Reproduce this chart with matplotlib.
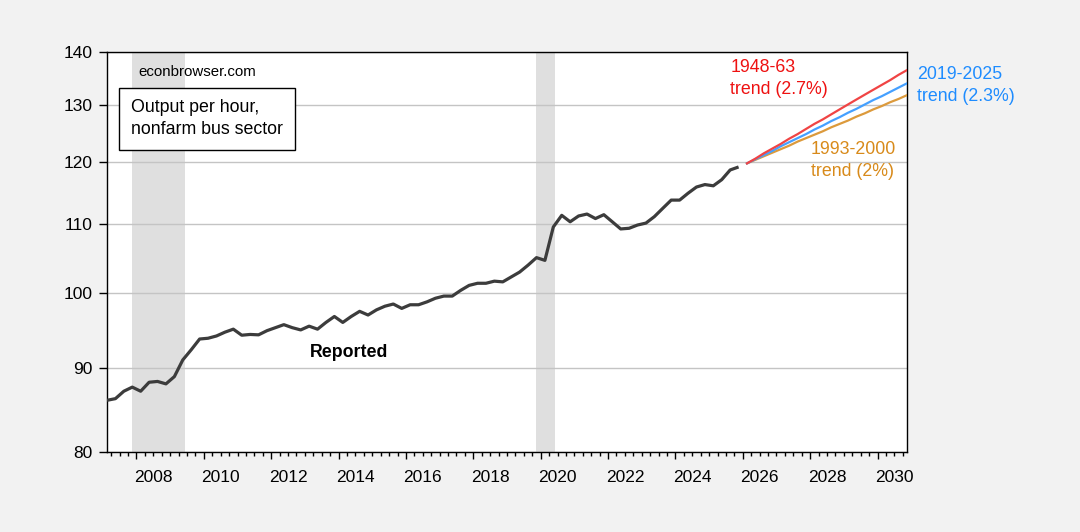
import numpy as np
import pandas as pd
import matplotlib
matplotlib.use("Agg")
import matplotlib.pyplot as plt
from matplotlib import ticker, transforms
from matplotlib.patches import Rectangle

plt.rcParams['font.family'] = ['Liberation Sans', 'DejaVu Sans']

# output per hour, nonfarm business sector, quarterly (log scale)
reported_start, reported_end = '2007Q1', '2025Q4'
reported = [86.0, 86.2, 87.1, 87.6, 87.1, 88.2, 88.3, 88.0,
            88.9, 91.0, 92.3, 93.7, 93.8, 94.1, 94.6, 95.0,
            94.2, 94.3, 94.25, 94.8, 95.2, 95.6, 95.2, 94.9,
            95.4, 95.0, 95.9, 96.7, 95.9, 96.7, 97.4, 96.9,
            97.6, 98.1, 98.4, 97.8, 98.3, 98.3, 98.7, 99.2,
            99.5, 99.5, 100.3, 101.0, 101.3, 101.3, 101.6, 101.5,
            102.2, 102.9, 103.9, 105.0, 104.6, 109.6, 111.4, 110.4,
            111.3, 111.6, 110.9, 111.5, 110.4, 109.3, 109.4, 109.9,
            110.2, 111.2, 112.5, 113.8, 113.8, 114.9, 115.9, 116.3,
            116.1, 117.1, 118.7, 119.2]

# trend extrapolations
trend_start, trend_end = '2026Q1', '2030Q4'
trend_1948_63 = [119.8, 120.6, 121.5, 122.3, 123.1, 124.0, 124.8, 125.7,
                 126.6, 127.4, 128.3, 129.2, 130.1, 131.0, 131.9, 132.8,
                 133.7, 134.6, 135.6, 136.5]
trend_2019_25 = [119.8, 120.5, 121.2, 121.9, 122.7, 123.4, 124.1, 124.8,
                 125.6, 126.3, 127.1, 127.8, 128.6, 129.3, 130.1, 130.9,
                 131.6, 132.4, 133.2, 134.0]
trend_1993_00 = [119.8, 120.4, 121.0, 121.6, 122.2, 122.8, 123.5, 124.1,
                 124.7, 125.3, 126.0, 126.6, 127.2, 127.9, 128.5, 129.2,
                 129.8, 130.5, 131.1, 131.8]

# NBER recessions (peak quarter, trough quarter)
recessions = [('2007Q4', '2009Q2'), ('2019Q4', '2020Q2')]

y_ticks = [80, 90, 100, 110, 120, 130, 140]


def qpos(start, end):
    p = pd.period_range(start, end, freq='Q')
    return np.asarray(p.year + (p.quarter - 0.5) / 4.0, dtype=float)


x_rep = qpos(reported_start, reported_end)
x_tr = qpos(trend_start, trend_end)

fig = plt.figure(figsize=(10.8, 5.32), dpi=100, facecolor='#f2f2f2')
ax = fig.add_axes([107 / 1080, 80 / 532, 800 / 1080, 400 / 532])
ax.set_facecolor('white')

for a, b in recessions:
    xa = qpos(a, a)[0]
    xb = qpos(b, b)[0]
    ax.axvspan(xa, xb + 0.06, color='#dfdfdf', lw=0, zorder=0.3)

ax.plot(x_rep, reported, color='#3c3c3c', lw=2.3, zorder=3, solid_capstyle='butt')
ax.plot(x_tr, trend_1993_00, color='#dc9a3c', lw=1.6, zorder=3)
ax.plot(x_tr, trend_2019_25, color='#45a0ff', lw=1.6, zorder=3)
ax.plot(x_tr, trend_1948_63, color='#f04444', lw=1.6, zorder=3)

# axes
ax.set_yscale('log')
ax.set_ylim(80, 140)
ax.yaxis.set_major_locator(ticker.FixedLocator(y_ticks))
ax.yaxis.set_major_formatter(ticker.FixedFormatter([str(v) for v in y_ticks]))
ax.yaxis.set_minor_locator(ticker.NullLocator())

x0, x1 = x_rep[0], x_tr[-1]
ax.set_xlim(x0, x1)
years = np.arange(2008, 2031, 2)
ax.set_xticks(years)
ax.set_xticklabels([str(y) for y in years])
ax.set_xticks(np.arange(2007.25, 2031.0, 0.25), minor=True)

ax.tick_params(axis='y', direction='out', length=6, width=1, pad=4.5,
               labelsize=12.5, colors='black')
ax.tick_params(axis='x', which='major', direction='out', length=5, width=1,
               pad=8, labelsize=12.5)
ax.tick_params(axis='x', which='minor', direction='out', length=3, width=1)

# shift the year labels to the middle of the year
half_year = 0.5 * (800 / 100) / (x1 - x0)
offset = transforms.ScaledTranslation(half_year, 0, fig.dpi_scale_trans)
for lab in ax.get_xticklabels():
    lab.set_transform(lab.get_transform() + offset)

ax.set_axisbelow(True)
ax.grid(axis='y', which='major', color='#c4c4c4', lw=1.0, zorder=0.5)
for s in ax.spines.values():
    s.set_linewidth(1.0)
    s.set_color('black')

# annotations
ax.text(0.0388, 0.9408, 'econbrowser.com', transform=ax.transAxes,
        fontsize=10.8, ha='left', va='baseline')
ax.add_patch(Rectangle((0.0154, 0.755), 0.22, 0.1543, transform=ax.transAxes,
                       facecolor='white', edgecolor='black', lw=1.0, zorder=5))
ax.text(0.0296, 0.8333, 'Output per hour,\nnonfarm bus sector', transform=ax.transAxes,
        fontsize=12.8, ha='left', va='center', linespacing=1.4, zorder=6)

ax.text(2014.3, 91.4, 'Reported', fontsize=12.8, fontweight='bold',
        ha='center', va='baseline', zorder=4)

ax.text(0.779, 0.933, '1948-63\ntrend (2.7%)', transform=ax.transAxes,
        color='#ee1111', fontsize=12.8, ha='left', va='center', linespacing=1.4)
ax.text(1.0129, 0.9155, '2019-2025\ntrend (2.3%)', transform=ax.transAxes,
        color='#1e8cff', fontsize=12.8, ha='left', va='center', linespacing=1.4)
ax.text(0.8794, 0.728, '1993-2000\ntrend (2%)', transform=ax.transAxes,
        color='#d88a1a', fontsize=12.8, ha='left', va='center', linespacing=1.4)

fig.savefig('out.png', dpi=100, facecolor=fig.get_facecolor())
